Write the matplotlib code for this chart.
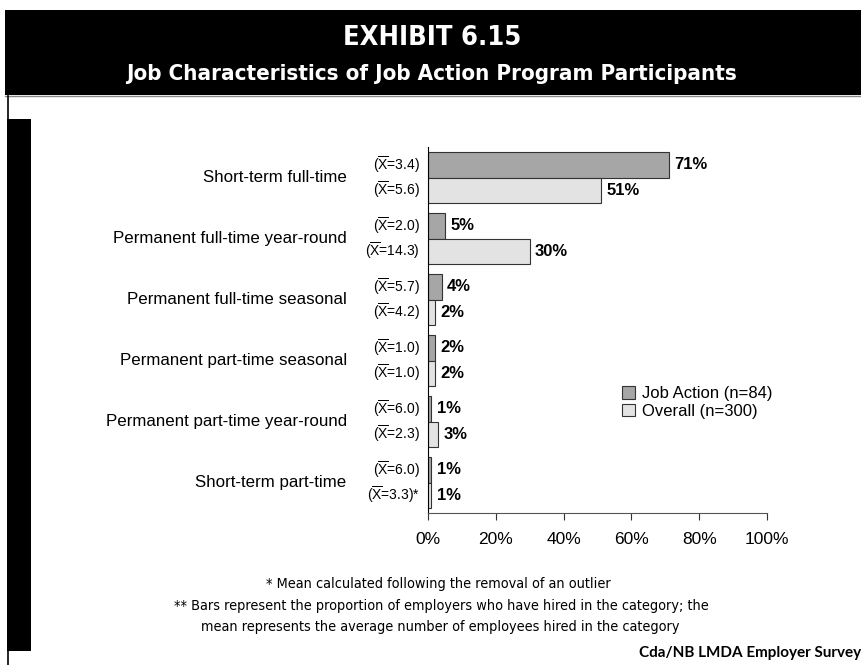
import matplotlib
matplotlib.use("Agg")
import matplotlib.pyplot as plt
import numpy as np
from matplotlib.patches import Rectangle, Patch
from matplotlib.lines import Line2D

plt.rcParams['font.family'] = ['Liberation Sans', 'DejaVu Sans']
plt.rcParams['mathtext.fontset'] = 'custom'
plt.rcParams['mathtext.rm'] = 'Liberation Sans'

# job categories, top to bottom
categories = ['Short-term full-time', 'Permanent full-time year-round',
              'Permanent full-time seasonal', 'Permanent part-time seasonal',
              'Permanent part-time year-round', 'Short-term part-time']
job_action = [71, 5, 4, 2, 1, 1]
overall = [51, 30, 2, 2, 3, 1]
mean_ja = ['3.4', '2.0', '5.7', '1.0', '6.0', '6.0']
mean_all = ['5.6', '14.3', '4.2', '1.0', '2.3', '3.3']
mean_flag_all = ['', '', '', '', '', '*']

W, H = 862, 665
fig = plt.figure(figsize=(W / 100, H / 100), dpi=100)

def fx(px):
    return px / W

def fy(py):
    return 1 - py / H

# header band and frame lines
fig.patches.append(Rectangle((fx(5), fy(95)), fx(W - 5), 85 / H, transform=fig.transFigure,
                             facecolor='black', edgecolor='none', zorder=0))
fig.lines.append(Line2D([fx(5), 1], [fy(95.5), fy(95.5)], transform=fig.transFigure,
                        color='#888888', lw=1))
fig.lines.append(Line2D([fx(8), fx(8)], [fy(96), 0], transform=fig.transFigure,
                        color='black', lw=1.2))
fig.patches.append(Rectangle((fx(7), fy(651)), fx(24), 532 / H, transform=fig.transFigure,
                             facecolor='black', edgecolor='none', zorder=1))

cond = dict(family='DejaVu Sans', fontstretch='condensed')
fig.text(fx(432), fy(38), 'EXHIBIT 6.15', color='white', fontsize=19.5, fontweight='bold',
         ha='center', va='center', **cond)
fig.text(fx(432), fy(74), 'Job Characteristics of Job Action Program Participants',
         color='white', fontsize=16, fontweight='bold', ha='center', va='center', **cond)

ax = fig.add_axes([fx(428), fy(513), fx(767 - 428), (513 - 147) / H])
y = np.arange(len(categories))
h = 0.41
ax.barh(y - h / 2, job_action, height=h, color='#a6a6a6', edgecolor='#333333', lw=0.8,
        label='Job Action (n=84)')
ax.barh(y + h / 2, overall, height=h, color='#e3e3e3', edgecolor='#333333', lw=0.8,
        label='Overall (n=300)')
ax.set_ylim(len(categories) - 0.5, -0.5)
ax.set_xlim(0, 100)

for i in range(len(categories)):
    ax.text(job_action[i] + 1.6, y[i] - h / 2, f'{job_action[i]}%', fontsize=12,
            fontweight='bold', va='center', ha='left')
    ax.text(overall[i] + 1.6, y[i] + h / 2, f'{overall[i]}%', fontsize=12,
            fontweight='bold', va='center', ha='left')
    ax.text(-2.3, y[i] - h / 2, r'($\mathregular{\overline{X}}$=' + mean_ja[i] + ')',
            fontsize=10, va='center', ha='right')
    ax.text(-2.3, y[i] + h / 2, r'($\mathregular{\overline{X}}$=' + mean_all[i] + ')'
            + mean_flag_all[i], fontsize=10, va='center', ha='right')
    ax.text(-24, y[i], categories[i], fontsize=12.2, va='center', ha='right')

ax.set_yticks([])
ax.set_xticks(np.arange(0, 101, 20))
ax.set_xticklabels([f'{v}%' for v in range(0, 101, 20)], fontsize=12.5)
ax.tick_params(axis='x', direction='out', length=5, color='#333333', pad=9)
for s in ['top', 'right']:
    ax.spines[s].set_visible(False)
ax.spines['left'].set_color('black')
ax.spines['bottom'].set_color('#555555')

handles = [Patch(facecolor='#a6a6a6', edgecolor='#333333', lw=0.8),
           Patch(facecolor='#e3e3e3', edgecolor='#333333', lw=0.8)]
fig.legend(handles, ['Job Action (n=84)', 'Overall (n=300)'], loc='upper left',
           bbox_to_anchor=(fx(607), fy(371)), frameon=False, fontsize=12,
           handlelength=0.8, handleheight=0.8, handletextpad=0.4, labelspacing=0.15)

fig.text(fx(438), fy(584), '* Mean calculated following the removal of an outlier',
         fontsize=10.4, ha='center', va='center', **cond)
fig.text(fx(441), fy(606), '** Bars represent the proportion of employers who have hired in the category; the',
         fontsize=10.4, ha='center', va='center', **cond)
fig.text(fx(440), fy(627), 'mean represents the average number of employees hired in the category',
         fontsize=10.4, ha='center', va='center', **cond)
fig.text(fx(861), fy(653), 'Cda/NB LMDA Employer Survey', fontsize=11, fontweight='bold',
         ha='right', va='center', family=['Lato', 'DejaVu Sans'])

fig.savefig('out.png', dpi=100)
